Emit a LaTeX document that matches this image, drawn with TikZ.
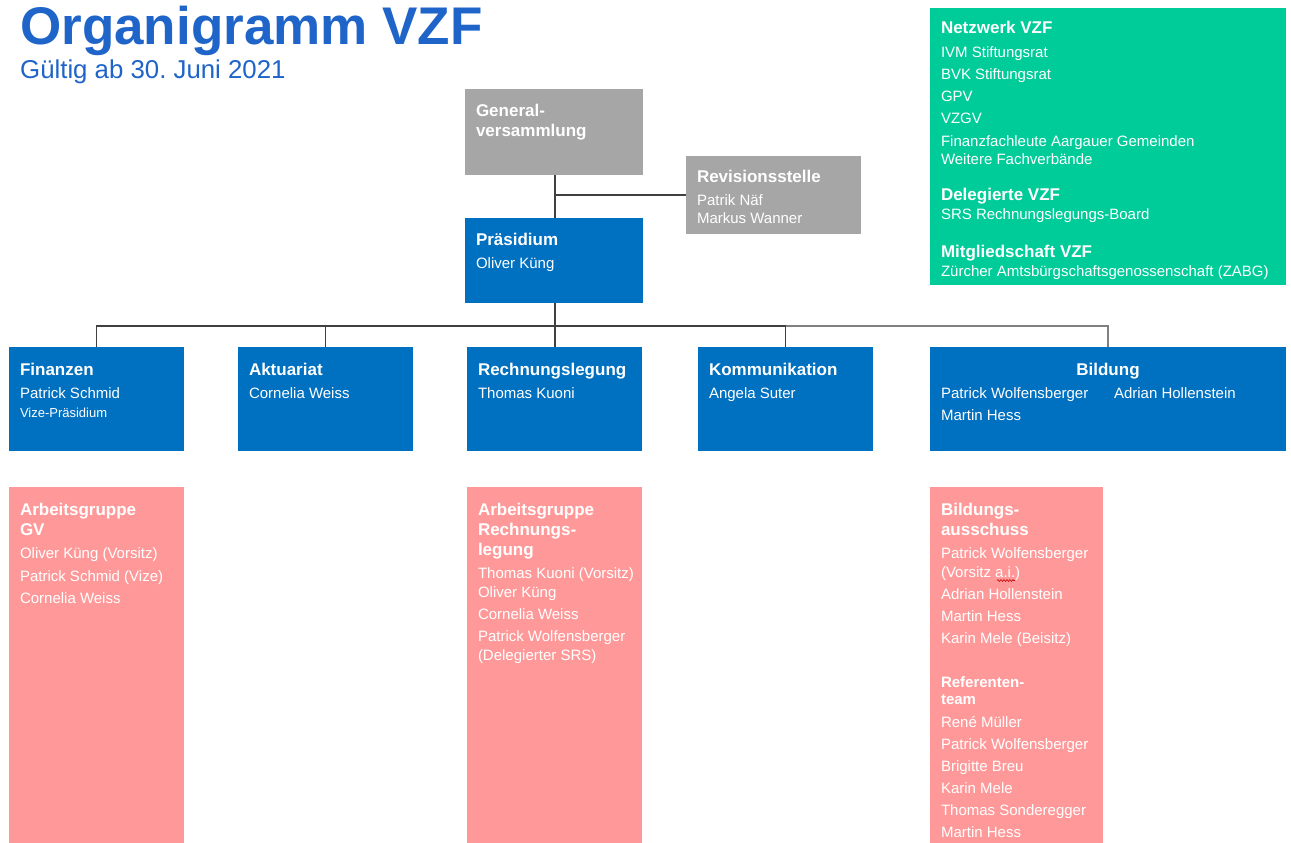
\documentclass[tikz,border=0pt]{standalone}
\usepackage{fontspec}
\setmainfont{Liberation Sans}
\usetikzlibrary{decorations.pathmorphing}
\definecolor{vzfblue}{HTML}{0070C0}
\definecolor{vzfgray}{HTML}{A6A6A6}
\definecolor{vzfgreen}{HTML}{00CC99}
\definecolor{vzfpink}{HTML}{FF9999}
\definecolor{titleblue}{HTML}{1F64C8}
\definecolor{linedark}{HTML}{404040}
\definecolor{linegray}{HTML}{808080}
\frenchspacing
\begin{document}
\begin{tikzpicture}[x=1pt,y=-1pt,
  box/.style={draw=none,anchor=north west,inner sep=0pt,outer sep=0pt},
  hd/.style={anchor=base west,inner sep=0pt,outer sep=0pt,text=white,font=\fontsize{17}{20}\selectfont\bfseries},
  hds/.style={anchor=base west,inner sep=0pt,outer sep=0pt,text=white,font=\fontsize{15}{18}\selectfont\bfseries},
  tx/.style={anchor=base west,inner sep=0pt,outer sep=0pt,text=white,font=\fontsize{15}{18}\selectfont},
  txs/.style={anchor=base west,inner sep=0pt,outer sep=0pt,text=white,font=\fontsize{13}{16}\selectfont},
  conn/.style={draw=linedark,line width=1.3pt},
  conng/.style={draw=linegray,line width=1.3pt}]
\useasboundingbox[fill=white] (0,0) rectangle (1291,843);

% title
\node[anchor=base west,inner sep=0pt,text=titleblue,font=\fontsize{53}{58}\selectfont\bfseries] (title) at (20,45) {Organigramm VZF};
\node[anchor=base west,inner sep=0pt,text=titleblue,font=\fontsize{25.8}{30}\selectfont] (subtitle) at (20,79) {Gültig ab 30. Juni 2021};

% boxes
\node[box,fill=vzfgray,minimum width=178,minimum height=86] (gv) at (465,89) {};
\node[box,fill=vzfgray,minimum width=175,minimum height=78] (rev) at (686,156) {};
\node[box,fill=vzfblue,minimum width=178,minimum height=85] (pra) at (465,218) {};

\node[box,fill=vzfblue,minimum width=175,minimum height=104] (fin) at (9,347) {};
\node[box,fill=vzfblue,minimum width=175,minimum height=104] (akt) at (238,347) {};
\node[box,fill=vzfblue,minimum width=175,minimum height=104] (rl) at (467,347) {};
\node[box,fill=vzfblue,minimum width=175,minimum height=104] (kom) at (698,347) {};
\node[box,fill=vzfblue,minimum width=356,minimum height=104] (bil) at (930,347) {};

\node[box,fill=vzfpink,minimum width=175,minimum height=356] (aggv) at (9,487) {};
\node[box,fill=vzfpink,minimum width=175,minimum height=356] (agrl) at (467,487) {};
\node[box,fill=vzfpink,minimum width=173,minimum height=356] (bau) at (930,487) {};

\node[box,fill=vzfgreen,minimum width=356,minimum height=277] (net) at (930,8) {};

% connectors
\coordinate (bus) at (555,326);
\draw[conn] (gv.south -| bus) -- (pra.north -| bus);
\draw[conn] (rev.west) -- (rev.west -| bus);
\draw[conn] (pra.south -| bus) -- (bus);
\draw[conn] (bus) -| (fin.north);
\draw[conn] (bus) -| (akt.north);
\draw[conn] (bus) -- (rl.north -| bus);
\draw[conn] (bus) -| (kom.north);
\draw[conng] (kom.north |- bus) -| (bil.north);

% GV / Revision / Praesidium
\node[hd] (gv-h1) at (476,116) {General-};
\node[hd] (gv-h2) at (476,136) {versammlung};
\node[hd] (rev-h) at (697,182) {Revisionsstelle};
\node[tx] (rev-1) at (697,205) {Patrik Näf};
\node[tx] (rev-2) at (697,223) {Markus Wanner};
\node[hd] (pra-h) at (476,245) {Präsidium};
\node[tx] (pra-1) at (476,268) {Oliver Küng};

% level 2
\node[hd] (fin-h) at (20,375) {Finanzen};
\node[tx] (fin-1) at (20,398) {Patrick Schmid};
\node[txs] (fin-2) at (20,417) {Vize-Präsidium};
\node[hd] (akt-h) at (249,375) {Aktuariat};
\node[tx] (akt-1) at (249,398) {Cornelia Weiss};
\node[hd] (rl-h) at (478,375) {Rechnungslegung};
\node[tx] (rl-1) at (478,398) {Thomas Kuoni};
\node[hd] (kom-h) at (709,375) {Kommunikation};
\node[tx] (kom-1) at (709,398) {Angela Suter};
\node[hd,anchor=base] (bil-h) at (1108,375) {Bildung};
\node[tx] (bil-1) at (941,398) {Patrick Wolfensberger};
\node[tx] (bil-2) at (1114,398) {Adrian Hollenstein};
\node[tx] (bil-3) at (941,420) {Martin Hess};

% level 3: AG GV
\node[hd] (aggv-h1) at (20,515) {Arbeitsgruppe};
\node[hd] (aggv-h2) at (20,535) {GV};
\node[tx] (aggv-1) at (20,558) {Oliver Küng (Vorsitz)};
\node[tx] (aggv-2) at (20,581) {Patrick Schmid (Vize)};
\node[tx] (aggv-3) at (20,603) {Cornelia Weiss};

% AG RL
\node[hd] (agrl-h1) at (478,515) {Arbeitsgruppe};
\node[hd] (agrl-h2) at (478,535) {Rechnungs-};
\node[hd] (agrl-h3) at (478,555) {legung};
\node[tx] (agrl-1) at (478,578) {Thomas Kuoni (Vorsitz)};
\node[tx] (agrl-2) at (478,597) {Oliver Küng};
\node[tx] (agrl-3) at (478,619) {Cornelia Weiss};
\node[tx] (agrl-4) at (478,641) {Patrick Wolfensberger};
\node[tx] (agrl-5) at (478,660) {(Delegierter SRS)};

% Bildungsausschuss
\node[hd] (bau-h1) at (941,515) {Bildungs-};
\node[hd] (bau-h2) at (941,535) {ausschuss};
\node[tx] (bau-1) at (941,558) {Patrick Wolfensberger};
\node[tx] (bau-2) at (941,577) {(Vorsitz a.i.)};
\node[tx] (bau-3) at (941,599) {Adrian Hollenstein};
\node[tx] (bau-4) at (941,621) {Martin Hess};
\node[tx] (bau-5) at (941,643) {Karin Mele (Beisitz)};
\draw[red!80!black,line width=0.6pt,decorate,decoration={snake,amplitude=0.9pt,segment length=3pt}] (997,580.5) -- (1015,580.5);
\node[hds] (ref-h1) at (941,687) {Referenten-};
\node[hds] (ref-h2) at (941,704) {team};
\node[tx] (ref-1) at (941,727) {René Müller};
\node[tx] (ref-2) at (941,749) {Patrick Wolfensberger};
\node[tx] (ref-3) at (941,771) {Brigitte Breu};
\node[tx] (ref-4) at (941,793) {Karin Mele};
\node[tx] (ref-5) at (941,815) {Thomas Sonderegger};
\node[tx] (ref-6) at (941,837) {Martin Hess};

% Netzwerk
\node[hd] (net-h1) at (941,34) {Netzwerk VZF};
\node[tx] (net-1) at (941,58) {IVM Stiftungsrat};
\node[tx] (net-2) at (941,80) {BVK Stiftungsrat};
\node[tx] (net-3) at (941,102) {GPV};
\node[tx] (net-4) at (941,124) {VZGV};
\node[tx] (net-5) at (941,146) {Finanzfachleute Aargauer Gemeinden};
\node[tx] (net-6) at (941,164) {Weitere Fachverbände};
\node[hd] (net-h2) at (941,200) {Delegierte VZF};
\node[tx] (net-7) at (941,219) {SRS Rechnungslegungs-Board};
\node[hd] (net-h3) at (941,257) {Mitgliedschaft VZF};
\node[tx] (net-8) at (941,276) {Zürcher Amtsbürgschaftsgenossenschaft (ZABG)};
\end{tikzpicture}
\end{document}
